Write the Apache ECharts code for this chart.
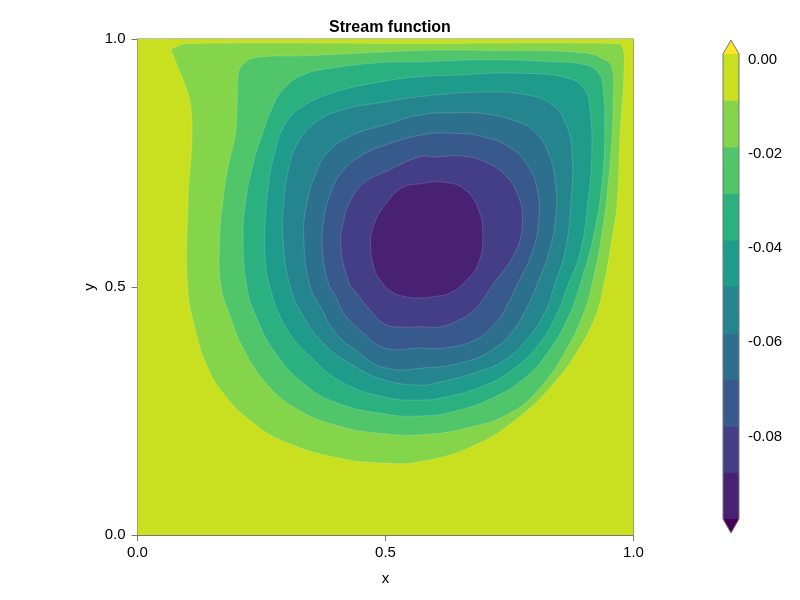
<!DOCTYPE html>
<html>
<head>
<meta charset="utf-8">
<script src="https://cdn.jsdelivr.net/npm/echarts@6/dist/echarts.min.js"></script>
<style>
  html, body { margin: 0; background: #fff; }
  #main { width: 800px; height: 600px; }
</style>
</head>
<body>
<div id="main"></div>
<script>
// contour levels (top to bottom)
var levels = [0.0012, -0.0087, -0.0186, -0.0285, -0.0384, -0.0482, -0.0581, -0.0679, -0.0778, -0.0877, -0.0975];
var bandColors = ['#c8e020', '#85d54a', '#51c56a', '#2bb07f', '#1e9b8a', '#25858e', '#2d708e', '#38598c', '#433e85', '#482173'];
var cbTicks = [0, -0.02, -0.04, -0.06, -0.08];

// unit square (outermost band)
var domain = [[0, 0], [0, 1], [1, 1], [1, 0]];

// contour lines, outer to inner (x, y)
var c1 = [[0.101,0.504],[0.102,0.671],[0.110,0.806],[0.106,0.873],[0.096,0.907],[0.082,0.942],[0.072,0.968],[0.068,0.978],[0.082,0.986],[0.102,0.991],[0.570,0.991],[0.963,0.991],[0.977,0.986],[0.981,0.942],[0.973,0.806],[0.967,0.671],[0.957,0.600],[0.940,0.504],[0.922,0.438],[0.886,0.369],[0.836,0.302],[0.767,0.236],[0.680,0.181],[0.570,0.148],[0.499,0.145],[0.398,0.157],[0.297,0.188],[0.231,0.228],[0.176,0.282],[0.142,0.337],[0.116,0.417]];
var c2 = [[0.168,0.504],[0.166,0.605],[0.172,0.671],[0.182,0.740],[0.197,0.806],[0.201,0.873],[0.203,0.927],[0.210,0.946],[0.237,0.962],[0.332,0.966],[0.499,0.974],[0.570,0.977],[0.701,0.977],[0.902,0.972],[0.942,0.958],[0.957,0.942],[0.959,0.873],[0.957,0.806],[0.949,0.706],[0.936,0.605],[0.916,0.504],[0.896,0.438],[0.862,0.369],[0.816,0.302],[0.755,0.248],[0.666,0.216],[0.570,0.202],[0.499,0.204],[0.398,0.222],[0.318,0.256],[0.263,0.302],[0.217,0.369],[0.188,0.438]];
var c3 = [[0.220,0.504],[0.213,0.605],[0.218,0.671],[0.231,0.740],[0.251,0.806],[0.277,0.873],[0.297,0.901],[0.332,0.927],[0.398,0.942],[0.499,0.953],[0.570,0.954],[0.701,0.958],[0.836,0.954],[0.902,0.948],[0.928,0.933],[0.938,0.907],[0.942,0.806],[0.936,0.706],[0.920,0.605],[0.892,0.504],[0.868,0.438],[0.828,0.369],[0.781,0.317],[0.715,0.276],[0.634,0.248],[0.570,0.240],[0.499,0.244],[0.398,0.268],[0.332,0.308],[0.277,0.369],[0.240,0.438]];
var c4 = [[0.266,0.504],[0.257,0.571],[0.258,0.639],[0.264,0.706],[0.277,0.772],[0.297,0.827],[0.332,0.863],[0.398,0.893],[0.499,0.915],[0.570,0.924],[0.634,0.927],[0.767,0.931],[0.868,0.921],[0.902,0.897],[0.912,0.861],[0.916,0.772],[0.908,0.671],[0.893,0.571],[0.868,0.504],[0.842,0.438],[0.808,0.383],[0.761,0.337],[0.701,0.302],[0.620,0.278],[0.570,0.272],[0.499,0.278],[0.412,0.308],[0.352,0.357],[0.300,0.417]];
var c5 = [[0.307,0.504],[0.293,0.605],[0.295,0.671],[0.305,0.740],[0.324,0.792],[0.358,0.831],[0.412,0.857],[0.499,0.873],[0.570,0.884],[0.701,0.893],[0.787,0.887],[0.836,0.867],[0.862,0.833],[0.876,0.772],[0.874,0.671],[0.862,0.571],[0.841,0.504],[0.822,0.450],[0.787,0.397],[0.741,0.353],[0.680,0.327],[0.600,0.306],[0.570,0.302],[0.499,0.312],[0.433,0.343],[0.378,0.383],[0.336,0.438]];
var c6 = [[0.347,0.504],[0.335,0.605],[0.342,0.671],[0.358,0.726],[0.384,0.772],[0.433,0.806],[0.499,0.827],[0.570,0.847],[0.634,0.851],[0.701,0.849],[0.767,0.833],[0.801,0.813],[0.828,0.772],[0.843,0.706],[0.843,0.639],[0.830,0.571],[0.805,0.504],[0.785,0.458],[0.755,0.409],[0.715,0.373],[0.660,0.349],[0.580,0.337],[0.499,0.337],[0.439,0.373],[0.398,0.409],[0.370,0.458]];
var c7 = [[0.386,0.504],[0.373,0.571],[0.375,0.631],[0.388,0.685],[0.412,0.732],[0.453,0.766],[0.499,0.786],[0.570,0.806],[0.634,0.810],[0.701,0.802],[0.753,0.780],[0.786,0.746],[0.805,0.700],[0.809,0.639],[0.796,0.571],[0.765,0.504],[0.745,0.462],[0.718,0.423],[0.680,0.393],[0.620,0.377],[0.570,0.377],[0.499,0.377],[0.453,0.409],[0.418,0.444],[0.398,0.484]];
var c8 = [[0.428,0.504],[0.410,0.579],[0.415,0.631],[0.432,0.679],[0.459,0.712],[0.499,0.732],[0.570,0.763],[0.600,0.762],[0.654,0.764],[0.701,0.752],[0.741,0.726],[0.767,0.685],[0.776,0.631],[0.762,0.571],[0.716,0.504],[0.696,0.475],[0.675,0.450],[0.645,0.432],[0.606,0.419],[0.570,0.420],[0.539,0.419],[0.499,0.425],[0.465,0.458],[0.440,0.490]];
var c9 = [[0.497,0.504],[0.478,0.535],[0.470,0.591],[0.479,0.631],[0.499,0.665],[0.533,0.700],[0.570,0.708],[0.620,0.711],[0.660,0.696],[0.688,0.655],[0.696,0.605],[0.688,0.550],[0.660,0.510],[0.630,0.488],[0.600,0.481],[0.566,0.478],[0.533,0.482],[0.510,0.492]];

var contours = [domain, c1, c2, c3, c4, c5, c6, c7, c8, c9];

var font = 'Liberation Sans';
var chart = echarts.init(document.getElementById('main'));

var option = {
  backgroundColor: '#fff',
  animation: false,
  textStyle: { fontFamily: font },
  title: {
    text: 'Stream function',
    left: 385,
    textAlign: 'center',
    top: 15,
    textStyle: { fontFamily: font, fontSize: 16, fontWeight: 'bold', color: '#000' }
  },
  grid: [
    { left: 137.5, top: 39, width: 496, height: 496, show: true, borderColor: '#777', borderWidth: 1, backgroundColor: 'transparent' },
    { left: 723, top: 54, width: 16, height: 465 }
  ],
  xAxis: [
    {
      gridIndex: 0, type: 'value', min: 0, max: 1, interval: 0.5,
      name: 'x', nameLocation: 'middle', nameGap: 36, nameMoveOverlap: false,
      nameTextStyle: { fontFamily: font, fontSize: 15, color: '#000' },
      axisLine: { show: true, lineStyle: { color: '#777', width: 1 } },
      axisTick: { show: true, length: 6, lineStyle: { color: '#777' } },
      axisLabel: { fontFamily: font, fontSize: 15, color: '#000', margin: 10,
        formatter: function (v) { return v.toFixed(1); } },
      splitLine: { show: false }
    },
    { gridIndex: 1, type: 'value', min: 0, max: 1, show: false }
  ],
  yAxis: [
    {
      gridIndex: 0, type: 'value', min: 0, max: 1, interval: 0.5,
      name: 'y', nameLocation: 'middle', nameGap: 40, nameRotate: 90, nameMoveOverlap: false,
      nameTextStyle: { fontFamily: font, fontSize: 15, color: '#000' },
      axisLine: { show: true, lineStyle: { color: '#777', width: 1 } },
      axisTick: { show: true, length: 6, lineStyle: { color: '#777' } },
      axisLabel: { fontFamily: font, fontSize: 15, color: '#000', margin: 12,
        formatter: function (v) { return v.toFixed(1); } },
      splitLine: { show: false }
    },
    {
      gridIndex: 1, type: 'value', position: 'right',
      min: levels[levels.length - 1], max: levels[0],
      axisLine: { show: false },
      axisTick: { show: true, length: 5, customValues: cbTicks, lineStyle: { color: '#000' } },
      axisLabel: { fontFamily: font, fontSize: 15, color: '#000', margin: 9, customValues: cbTicks,
        formatter: function (v) { return (Math.abs(v) < 1e-9 ? 0 : v).toFixed(2); } },
      splitLine: { show: false }
    }
  ],
  series: [
    {
      // filled contour bands
      type: 'custom',
      xAxisIndex: 0, yAxisIndex: 0,
      silent: true,
      data: contours.map(function (c, i) { return [i]; }),
      encode: { x: -1, y: -1 },
      renderItem: function (params, api) {
        var i = params.dataIndex;
        var pts = contours[i].map(function (p) { return api.coord(p); });
        return {
          type: 'polygon',
          shape: { points: pts, smooth: i === 0 ? 0 : 0.45 },
          style: { fill: bandColors[i], stroke: i === 0 ? null : 'rgba(255,255,255,0.25)', lineWidth: 0.6 }
        };
      }
    },
    {
      // colorbar bands
      type: 'custom',
      xAxisIndex: 1, yAxisIndex: 1,
      silent: true,
      data: bandColors.map(function (c, i) { return [i]; }),
      encode: { x: -1, y: -1 },
      renderItem: function (params, api) {
        var i = params.dataIndex;
        var a = api.coord([0, levels[i]]);
        var b = api.coord([1, levels[i + 1]]);
        return {
          type: 'rect',
          shape: { x: a[0], y: a[1], width: b[0] - a[0], height: b[1] - a[1] + 0.5 },
          style: { fill: bandColors[i] }
        };
      }
    },
    {
      // colorbar extension triangles and outline
      type: 'custom',
      xAxisIndex: 1, yAxisIndex: 1,
      silent: true,
      data: [[0]],
      encode: { x: -1, y: -1 },
      renderItem: function (params, api) {
        var tl = api.coord([0, levels[0]]);
        var tr = api.coord([1, levels[0]]);
        var bl = api.coord([0, levels[levels.length - 1]]);
        var br = api.coord([1, levels[levels.length - 1]]);
        var mid = (tl[0] + tr[0]) / 2;
        var ext = 14;
        return {
          type: 'group',
          children: [
            { type: 'polygon', shape: { points: [tl, [mid, tl[1] - ext], tr] }, style: { fill: '#fde725' } },
            { type: 'polygon', shape: { points: [bl, [mid, bl[1] + ext], br] }, style: { fill: '#440154' } },
            { type: 'polygon',
              shape: { points: [tl, [mid, tl[1] - ext], tr, br, [mid, br[1] + ext], bl] },
              style: { fill: null, stroke: '#777', lineWidth: 1 } }
          ]
        };
      }
    }
  ]
};

chart.setOption(option);
</script>
</body>
</html>
